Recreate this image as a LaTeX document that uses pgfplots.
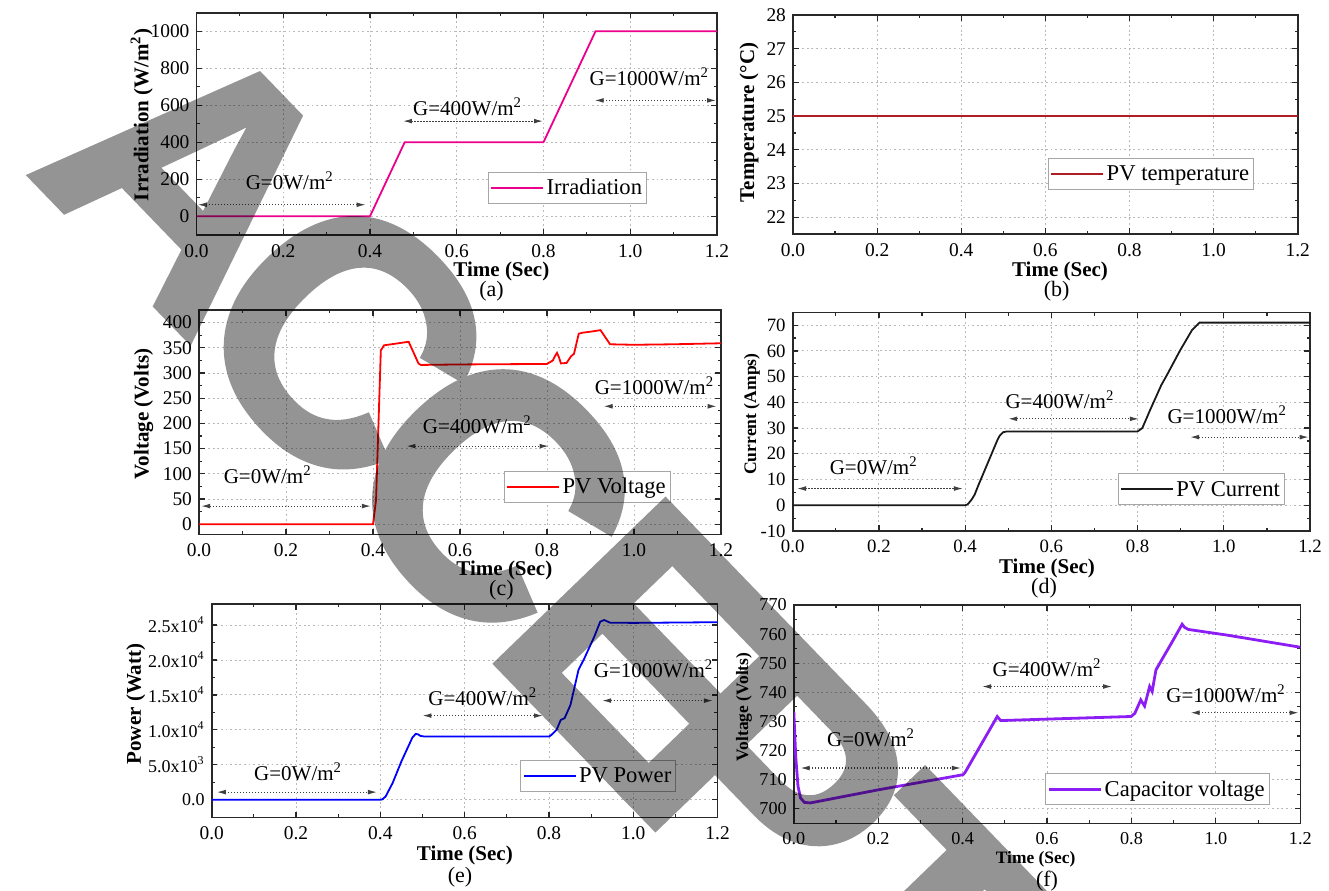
\documentclass[border=0pt]{standalone}
\usepackage{fontspec}
\setmainfont{Liberation Serif}
\newfontfamily\wmfont{Liberation Sans}[BoldFeatures={FakeBold=1.6}]
\usepackage{pgfplots}
\pgfplotsset{compat=1.18}
\usetikzlibrary{arrows.meta}

\definecolor{tempred}{RGB}{175,30,35}
\definecolor{capviolet}{RGB}{140,30,245}
\definecolor{axisgray}{RGB}{40,40,40}

\tikzset{
  garrow/.style={{Latex[length=4.5pt,width=2.4pt]}-{Latex[length=4.5pt,width=2.4pt]}, line width=0.55pt, black!75, dash pattern=on 0.6pt off 0.9pt},
  gtext/.style={font=\fontsize{10.5}{12}\selectfont, inner sep=0pt},
  xlab/.style={font=\fontsize{10.5}{12}\selectfont\bfseries, inner sep=0pt},
  plab/.style={font=\fontsize{11}{12}\selectfont, inner sep=0pt},
}

\pgfplotsset{
  panel/.style={
    scale only axis, anchor=south west,
    xmin=0, xmax=1.2,
    xtick={0,0.2,0.4,0.6,0.8,1.0,1.2},
    xticklabels={0.0,0.2,0.4,0.6,0.8,1.0,1.2},
    minor x tick num=1, minor y tick num=1,
    tick align=inside, tick pos=both,
    xmajorgrids, ymajorgrids,
    major grid style={line width=0.45pt, gray!55, dash pattern=on 0.9pt off 1.4pt},
    axis line style={line width=0.8pt, axisgray},
    tick style={line width=0.6pt, axisgray},
    major tick length=2.8pt, minor tick length=1.6pt,
    /pgf/number format/assume math mode=true,
    /pgf/number format/1000 sep={},
    tick label style={font=\fontsize{9.7}{10}\selectfont},
    xticklabel style={yshift=-1.2pt},
    clip mode=individual,
    legend cell align=left,
    legend style={font=\fontsize{11.3}{12}\selectfont, draw=gray!70, line width=0.5pt, fill=white,
      inner xsep=1pt, inner ysep=0.8pt, anchor=north west,
      nodes={inner sep=1.2pt, text height=9.2pt, text depth=2.2pt}},
    legend image code/.code={\draw[#1] (0pt,0pt) -- (26pt,0pt);},
    every axis plot/.append style={line width=0.9pt},
  },
}

\begin{document}
\begin{tikzpicture}
\useasboundingbox (0,0) rectangle (664.5pt,-445pt);

% (a) Irradiation
\begin{axis}[panel, at={(98.25pt,-117.35pt)}, width=260.25pt, height=111pt,
  ymin=-100, ymax=1100, ytick={0,200,400,600,800,1000},
  legend style={at={(0.560,0.2824)}}]
\addplot[magenta] coordinates {(0,0) (0.4,0) (0.48,400) (0.8,400) (0.92,1000) (1.2,1000)};
\addlegendentry{Irradiation}
\node[gtext] at (axis cs:0.215,193) {G=0W/m\textsuperscript{2}};
\draw[garrow] (axis cs:0.003,62) -- (axis cs:0.39,62);
\node[gtext] at (axis cs:0.625,590) {G=400W/m\textsuperscript{2}};
\draw[garrow] (axis cs:0.476,514) -- (axis cs:0.799,514);
\node[gtext] at (axis cs:1.044,756) {G=1000W/m\textsuperscript{2}};
\draw[garrow] (axis cs:0.918,626) -- (axis cs:1.198,626);
\end{axis}

% (b) Temperature
\begin{axis}[panel, at={(396.5pt,-117pt)}, width=252.35pt, height=109.5pt,
  ymin=21.5, ymax=28, ytick={22,23,24,25,26,27,28},
  legend style={at={(0.5053,0.347)}}]
\addplot[tempred] coordinates {(0,25) (1.2,25)};
\addlegendentry{PV temperature}
\end{axis}

% (c) PV voltage
\begin{axis}[panel, at={(99.5pt,-267.15pt)}, width=261pt, height=112.15pt,
  ymin=-20, ymax=425, ytick={0,50,100,150,200,250,300,350,400},
  legend style={at={(0.584,0.282)}}]
\addplot[red] coordinates {(0,0) (0.4,0) (0.407,48) (0.418,345) (0.4255,355) (0.45,358) (0.482,362)
  (0.5045,319) (0.51,316) (0.6,317) (0.7,317.5) (0.8,318) (0.8136,325) (0.818,333) (0.823,340)
  (0.828,330) (0.832,319) (0.845,320) (0.855,333) (0.862,338) (0.873,378) (0.882,380) (0.9,382)
  (0.923,385) (0.945,357) (1.0,356) (1.09,357) (1.2,359)};
\addlegendentry{PV Voltage}
\node[gtext] at (axis cs:0.158,98) {G=0W/m\textsuperscript{2}};
\draw[garrow] (axis cs:0.005,36) -- (axis cs:0.395,36);
\node[gtext] at (axis cs:0.64,198) {G=400W/m\textsuperscript{2}};
\draw[garrow] (axis cs:0.477,155) -- (axis cs:0.804,155);
\node[gtext] at (axis cs:1.047,274) {G=1000W/m\textsuperscript{2}};
\draw[garrow] (axis cs:0.93,234) -- (axis cs:1.19,234);
\end{axis}

% (d) PV current
\begin{axis}[panel, at={(396.35pt,-265.5pt)}, width=258.65pt, height=109.35pt,
  ymin=-10, ymax=75, ytick={-10,0,10,20,30,40,50,60,70},
  tick label style={font=\fontsize{9.4}{10}\selectfont},
  legend style={at={(0.628,0.2645)}}]
\addplot[black!90] coordinates {(0,0) (0.4,0) (0.405,0.3) (0.4086,0.9) (0.415,2.2) (0.422,4.1) (0.43,7.5)
  (0.475,25.4) (0.48,27) (0.488,28.4) (0.497,28.7) (0.8,28.7) (0.811,30) (0.829,37) (0.855,46.7)
  (0.868,50.6) (0.899,60.3) (0.926,68) (0.9435,71) (1.2,71)};
\addlegendentry{PV Current}
\node[gtext] at (axis cs:0.188,15.2) {G=0W/m\textsuperscript{2}};
\draw[garrow] (axis cs:0.01,6.5) -- (axis cs:0.395,6.5);
\node[gtext] at (axis cs:0.62,41) {G=400W/m\textsuperscript{2}};
\draw[garrow] (axis cs:0.5,33.6) -- (axis cs:0.803,33.6);
\node[gtext] at (axis cs:1.008,35.3) {G=1000W/m\textsuperscript{2}};
\draw[garrow] (axis cs:0.922,26.5) -- (axis cs:1.197,26.5);
\end{axis}

% (e) PV power
\begin{axis}[panel, at={(105.85pt,-408.65pt)}, width=252.95pt, height=106.65pt,
  ymin=-2500, ymax=28000, scaled y ticks=false,
  ytick={0,5000,10000,15000,20000,25000},
  yticklabels={0.0,5.0x10\textsuperscript{3},1.0x10\textsuperscript{4},1.5x10\textsuperscript{4},2.0x10\textsuperscript{4},2.5x10\textsuperscript{4}},
  yticklabel style={font=\fontsize{9}{10}\selectfont},
  legend style={at={(0.610,0.2686)}}]
\addplot[blue] coordinates {(0,0) (0.4,0) (0.405,80) (0.4125,476) (0.429,2381) (0.45,5500) (0.476,8900)
  (0.484,9430) (0.49,9350) (0.495,9140) (0.505,9050) (0.8,9050) (0.804,9190) (0.818,10000)
  (0.828,11430) (0.837,11670) (0.851,13570) (0.87,18570) (0.884,20240) (0.9075,23330)
  (0.9216,25480) (0.931,25710) (0.945,25330) (1.0,25300) (1.1,25350) (1.2,25400)};
\addlegendentry{PV Power}
\node[gtext] at (axis cs:0.205,4040) {G=0W/m\textsuperscript{2}};
\draw[garrow] (axis cs:0.012,1100) -- (axis cs:0.392,1100);
\node[gtext] at (axis cs:0.643,14670) {G=400W/m\textsuperscript{2}};
\draw[garrow] (axis cs:0.5,12040) -- (axis cs:0.786,12040);
\node[gtext] at (axis cs:1.048,18710) {G=1000W/m\textsuperscript{2}};
\draw[garrow] (axis cs:0.926,14190) -- (axis cs:1.189,14190);
\end{axis}

% (f) capacitor voltage
\begin{axis}[panel, at={(396.9pt,-411.65pt)}, width=253.25pt, height=109.15pt,
  ymin=695, ymax=770, ytick={700,710,720,730,740,750,760,770},
  tick label style={font=\fontsize{9.1}{10}\selectfont},
  legend style={at={(0.496,0.229)}}]
\addplot[capviolet, line width=1.4pt] coordinates {(0,733.4) (0.0045,718) (0.01,707.7) (0.016,703.7)
  (0.025,702.2) (0.039,702) (0.2,706.5) (0.401,711.7) (0.405,712.3) (0.482,731.7) (0.49,730.3)
  (0.6,730.8) (0.799,731.7) (0.808,732.8) (0.822,737.4) (0.831,735.3) (0.843,742) (0.849,740.3)
  (0.858,747.7) (0.8715,751.1) (0.899,758) (0.92,763.4) (0.926,762.3) (0.935,761.6) (1.025,759.7)
  (1.2,755.5)};
\addlegendentry{Capacitor voltage}
\node[gtext] at (axis cs:0.183,724.3) {G=0W/m\textsuperscript{2}};
\draw[garrow] (axis cs:0.016,714) -- (axis cs:0.396,714);
\node[gtext] at (axis cs:0.6,748.5) {G=400W/m\textsuperscript{2}};
\draw[garrow] (axis cs:0.446,742) -- (axis cs:0.754,742);
\node[gtext] at (axis cs:1.024,739.5) {G=1000W/m\textsuperscript{2}};
\draw[garrow] (axis cs:0.94,733) -- (axis cs:1.196,733);
\end{axis}

% labels in pixel coordinates
\begin{scope}[x=0.5pt,y=-0.5pt]
\node[xlab] at (501.4,271.7) {Time (Sec)};
\node[plab] at (491.5,291.7) {(a)};
\node[xlab,rotate=90] at (141.7,115) {Irradiation (W/m\textsuperscript{2})};
\node[xlab] at (1060,271.7) {Time (Sec)};
\node[plab] at (1056.6,291.7) {(b)};
\node[xlab,rotate=90] at (749,122.5) {Temperature (°C)};
\node[xlab] at (504.4,570.7) {Time (Sec)};
\node[plab] at (501.4,590) {(c)};
\node[xlab,rotate=90] at (143.7,414) {Voltage (Volts)};
\node[xlab] at (1047,568.3) {Time (Sec)};
\node[plab] at (1044,588.3) {(d)};
\node[xlab,rotate=90,font=\fontsize{8.8}{10}\selectfont\bfseries] at (751.8,414) {Current (Amps)};
\node[xlab] at (464.9,855) {Time (Sec)};
\node[plab] at (460,876.7) {(e)};
\node[xlab,rotate=90] at (135.8,704) {Power (Watt)};
\node[xlab,font=\fontsize{8.7}{10}\selectfont\bfseries] at (1035.6,859.3) {Time (Sec)};
\node[plab] at (1047,880.7) {(f)};
\node[xlab,rotate=90,font=\fontsize{8.7}{10}\selectfont\bfseries] at (744,707) {Voltage (Volts)};
\end{scope}

% watermark
\begin{scope}[x=0.5pt,y=-0.5pt,transparency group,opacity=0.42]
\clip (0,0) rectangle (1329,890);
\foreach \ch/\xx/\yy in {A/195/177, C/345/338.5, C/493.4/491.7, E/644.2/647.7, P/769.2/777.1, T/910.4/923}
  \node[rotate=-46, inner sep=0pt, text=black,
        font=\wmfont\bfseries\fontsize{171}{171}\selectfont] at (\xx,\yy) {\ch};
\end{scope}
\end{tikzpicture}
\end{document}
